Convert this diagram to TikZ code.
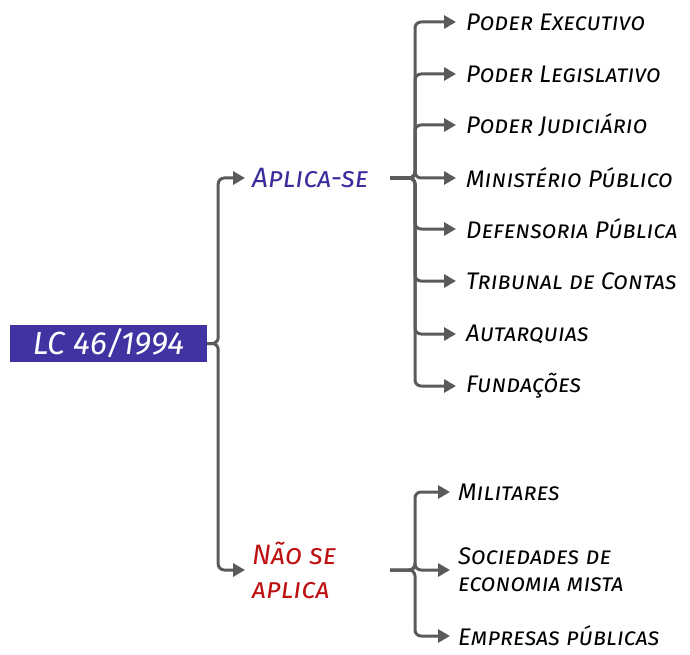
\documentclass[tikz,border=0pt]{standalone}
\usepackage{fontspec}
\setmainfont{Fira Sans}
\usetikzlibrary{arrows.meta}
\definecolor{rootc}{HTML}{4233A3}
\definecolor{aplc}{HTML}{3A2C9C}
\definecolor{naoc}{HTML}{BE1010}
\definecolor{linec}{HTML}{5A5A5A}
\begin{document}
\begin{tikzpicture}[x=1pt,y=-1pt,
  conn/.style={draw=linec,line width=3pt,rounded corners=6pt,-{Triangle[length=12pt,width=13pt]}},
  leaf/.style={anchor=west,inner sep=0pt,font=\fontsize{24}{27}\selectfont\itshape\scshape,text=black},
  mid/.style={anchor=west,inner sep=0pt,font=\fontsize{28}{34}\selectfont\itshape\scshape}]
\useasboundingbox (0,0) rectangle (690,655);
\node[fill=rootc,minimum width=197pt,minimum height=37pt,inner sep=0pt,text=white,
  font=\fontsize{32}{36}\selectfont\itshape\scshape] (root) at (108.5,343.5) {LC 46/1994};
\node[mid,text=aplc] (apl) at (252,178) {Aplica-se};
\node[mid,text=naoc,align=left] (nao) at (252,570) {Não se\\aplica};
\coordinate (aplend) at (390,178);
\coordinate (naoend) at (390,570);
\node[leaf] (a1) at (466,22) {Poder Executivo};
\node[leaf] (a2) at (466,74) {Poder Legislativo};
\node[leaf] (a3) at (466,125) {Poder Judiciário};
\node[leaf] (a4) at (466,178) {Ministério Público};
\node[leaf] (a5) at (466,229) {Defensoria Pública};
\node[leaf] (a6) at (466,281) {Tribunal de Contas};
\node[leaf] (a7) at (466,334) {Autarquias};
\node[leaf] (a8) at (466,386) {Fundações};
\node[leaf] (n1) at (458,492) {Militares};
\node[leaf,align=left] (n2) at (458,570) {Sociedades de\\economia mista};
\node[leaf] (n3) at (458,636) {Empresas públicas};
\draw[conn,shorten >=7pt] (root.east) -- ++(11,0) |- (apl.west);
\draw[conn,shorten >=7pt] (root.east) -- ++(11,0) |- (nao.west);
\foreach \c in {a1,a2,a3,a4,a5,a6,a7,a8}
  \draw[conn,shorten >=10pt] (aplend) -- ++(25,0) |- (\c.west);
\foreach \c in {n1,n2,n3}
  \draw[conn,shorten >=8pt] (naoend) -- ++(25,0) |- (\c.west);
\end{tikzpicture}
\end{document}
